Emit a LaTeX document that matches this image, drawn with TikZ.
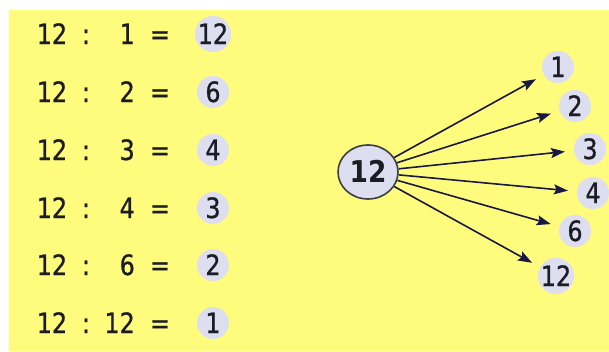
\documentclass[tikz,border=0pt]{standalone}
\usepackage{fontspec}
\newfontfamily\numfont[FakeStretch=0.85,FakeBold=0.8]{DejaVu Sans}
\newfontfamily\hubfont[FakeStretch=0.88]{DejaVu Sans Bold}
\usetikzlibrary{arrows.meta,shapes.geometric}
\definecolor{bgyellow}{RGB}{255,252,125}
\definecolor{lavender}{RGB}{221,222,240}
\definecolor{inkdark}{RGB}{28,28,36}
\definecolor{arrowblue}{RGB}{24,24,66}
\begin{document}
\begin{tikzpicture}[x=1pt,y=-1pt,>={Stealth[length=14pt,width=10pt,inset=2.5pt]},
    txt/.style={inkdark,font=\numfont\fontsize{28}{30}\selectfont,
        text height=20pt,text depth=0pt,inner sep=0pt},
    res/.style={txt,circle,fill=lavender,minimum size=32pt},
    hub/.style={txt,ellipse,draw=inkdark!85,line width=1.6pt,fill=lavender,
        minimum width=60pt,minimum height=54pt,text height=21pt,
        font=\hubfont\fontsize{30}{30}\selectfont},
    link/.style={arrowblue,line width=1.6pt,->,shorten >=9pt}]
    \useasboundingbox (0,0) rectangle (609,351);
    \fill[bgyellow] (9,10) rectangle (609,351);

    % 12 : 1 = 12
    \node[txt] (r1a) at (52,34) {12};
    \node[txt] (r1b) at (86,34) {:};
    \node[txt,anchor=east] (r1c) at (135,34) {1};
    \node[txt] (r1d) at (160,34) {=};
    \node[res] (r1e) at (213,34) {12};
    % 12 : 2 = 6
    \node[txt] (r2a) at (52,92) {12};
    \node[txt] (r2b) at (86,92) {:};
    \node[txt,anchor=east] (r2c) at (135,92) {2};
    \node[txt] (r2d) at (160,92) {=};
    \node[res] (r2e) at (213,92) {6};
    % 12 : 3 = 4
    \node[txt] (r3a) at (52,150) {12};
    \node[txt] (r3b) at (86,150) {:};
    \node[txt,anchor=east] (r3c) at (135,150) {3};
    \node[txt] (r3d) at (160,150) {=};
    \node[res] (r3e) at (213,150) {4};
    % 12 : 4 = 3
    \node[txt] (r4a) at (52,208) {12};
    \node[txt] (r4b) at (86,208) {:};
    \node[txt,anchor=east] (r4c) at (135,208) {4};
    \node[txt] (r4d) at (160,208) {=};
    \node[res] (r4e) at (213,208) {3};
    % 12 : 6 = 2
    \node[txt] (r5a) at (52,265) {12};
    \node[txt] (r5b) at (86,265) {:};
    \node[txt,anchor=east] (r5c) at (135,265) {6};
    \node[txt] (r5d) at (160,265) {=};
    \node[res] (r5e) at (213,265) {2};
    % 12 : 12 = 1
    \node[txt] (r6a) at (52,323) {12};
    \node[txt] (r6b) at (86,323) {:};
    \node[txt,anchor=east] (r6c) at (135,323) {12};
    \node[txt] (r6d) at (160,323) {=};
    \node[res] (r6e) at (213,323) {1};

    % divisors of 12
    \node[hub] (twelve) at (368,172) {12};
    \node[res] (d1) at (558,67) {1};
    \node[res] (d2) at (575,106) {2};
    \node[res] (d3) at (590,149) {3};
    \node[res] (d4) at (593,193) {4};
    \node[res] (d6) at (575,231) {6};
    \node[res] (d12) at (556,276) {12};

    \draw[link] (twelve) -- (d1);
    \draw[link] (twelve) -- (d2);
    \draw[link] (twelve) -- (d3);
    \draw[link] (twelve) -- (d4);
    \draw[link] (twelve) -- (d6);
    \draw[link] (twelve) -- (d12);
\end{tikzpicture}
\end{document}
